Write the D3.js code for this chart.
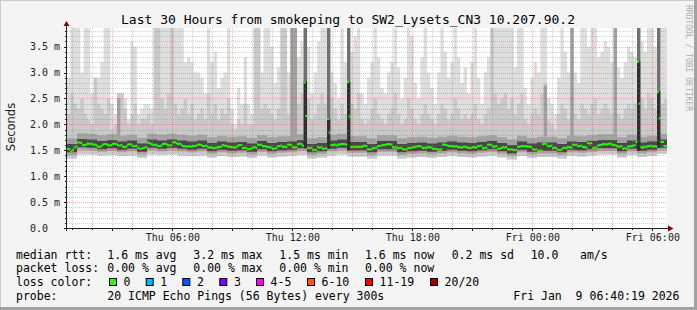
<!DOCTYPE html>
<html>
<head>
<meta charset="utf-8">
<script src="https://cdn.jsdelivr.net/npm/d3@7"></script>
<style>
  html, body { margin: 0; padding: 0; background: #f3f3f3; }
  svg { display: block; }
  text { font-family: "DejaVu Sans Mono", monospace; white-space: pre; }
</style>
</head>
<body>
<svg id="chart" width="697" height="310"></svg>
<script>
// time window of the graph (30 hours)
const startTime = new Date(2026, 0, 8, 0, 44)
const endTime = new Date(2026, 0, 9, 6, 44)
const yMax = 3.86

// median rtt in ms, one value per 5 minute step
const median = [
  1.53,1.52,1.48, 1.50,1.55,1.58, 1.65,1.65,1.64, 1.60,1.60,1.61, 1.63,1.62,1.63, 1.61,1.61,1.60, 1.57,1.56,1.58, 1.61,1.62,1.62, 1.60,1.59,1.60, 1.62,1.63,1.62,
  1.60,1.59,1.60, 1.57,1.56,1.57, 1.61,1.62,1.61, 1.58,1.58,1.59, 1.55,1.53,1.53, 1.54,1.55,1.56, 1.65,1.64,1.62, 1.61,1.60,1.61, 1.58,1.58,1.59, 1.62,1.63,1.62,
  1.60,1.59,1.60, 1.65,1.66,1.64, 1.62,1.63,1.61, 1.58,1.58,1.57, 1.57,1.58,1.57, 1.58,1.58,1.59, 1.61,1.61,1.60, 1.58,1.58,1.59, 1.56,1.55,1.56, 1.54,1.54,1.55,
  1.56,1.56,1.57, 1.60,1.59,1.59, 1.57,1.57,1.56, 1.56,1.55,1.56, 1.59,1.60,1.60, 1.54,1.55,1.54, 1.52,1.52,1.53, 1.55,1.56,1.55, 1.61,1.60,1.61, 1.58,1.58,1.57,
  1.56,1.56,1.55, 1.53,1.53,1.54, 1.58,1.58,1.59, 1.56,1.57,1.56, 1.61,1.61,1.60, 1.56,1.55,1.56, 1.62,1.63,1.62, 1.59,2.81,2.16, 1.55,1.54,1.55, 1.50,1.51,1.50,
  1.56,1.55,1.56, 1.53,1.53,1.54, 2.10,1.84,1.60, 1.60,1.61,1.59, 1.61,1.61,1.62, 1.62,1.62,1.61, 2.82,2.15,1.56, 1.57,1.56,1.57, 1.56,1.57,1.56, 1.58,1.59,1.58,
  1.52,1.51,1.52, 1.54,1.54,1.55, 1.58,1.58,1.59, 1.60,1.60,1.61, 1.62,1.62,1.61, 1.56,1.55,1.56, 1.54,1.54,1.55, 1.52,1.52,1.51, 1.54,1.55,1.54, 1.56,1.56,1.57,
  1.58,1.58,1.57, 1.54,1.55,1.54, 1.56,1.56,1.55, 1.53,1.53,1.52, 1.52,1.51,1.52, 1.61,1.61,1.60, 1.59,1.58,1.58, 1.58,1.57,1.58, 1.56,1.56,1.55, 1.56,1.57,1.56,
  1.55,1.54,1.55, 1.56,1.56,1.55, 1.58,1.58,1.59, 1.54,1.54,1.55, 1.61,1.61,1.60, 1.57,1.57,1.58, 1.53,1.53,1.54, 1.56,1.55,1.56, 1.52,1.51,1.52, 1.51,1.50,1.51,
  1.57,1.57,1.58, 1.58,1.58,1.58, 1.57,1.57,1.56, 1.52,1.51,1.52, 1.49,1.49,1.50, 1.62,1.63,1.62, 1.58,1.58,1.59, 1.54,1.55,1.54, 1.51,1.50,1.51, 1.54,1.55,1.54,
  1.56,1.56,1.55, 1.61,1.60,1.61, 1.58,1.58,1.59, 1.56,1.56,1.55, 1.64,1.63,1.64, 1.54,1.55,1.55, 1.59,1.60,1.60, 1.62,1.62,1.61, 1.62,1.63,1.62, 1.60,1.60,1.59,
  1.57,1.57,1.58, 1.53,1.54,1.53, 1.57,1.57,1.58, 1.58,1.60,1.66, 3.21,2.40,1.56, 1.55,1.57,1.56, 1.58,1.58,1.59, 1.57,1.58,1.57, 2.63,2.12,1.66, 1.66,1.58,1.58
]

// smoke: highest ping per 10 minute column (ms)
const pingMax = [
  2.9,3.9,3.9,3.9,3.0,3.9,3.9,2.6,2.9,2.9, 3.2,3.9,3.9,2.4,2.2,2.6,2.6,2.5,2.1,3.6,
  3.5,2.2,2.3,2.4,2.4,2.3,3.9,3.9,3.9,3.9, 3.9,3.9,3.9,3.9,3.9,3.2,3.3,3.2,3.0,3.0,
  2.9,2.6,3.9,3.2,3.4,2.7,2.9,3.0,3.9,2.3, 2.0,2.7,2.4,3.3,2.4,2.2,3.9,3.9,3.0,3.9,
  3.9,3.5,2.8,3.1,3.9,3.9,3.0,3.9,3.9,3.3, 3.6,3.9,3.5,2.6,3.0,3.6,3.9,3.9,3.9,3.0,
  2.8,2.5,3.9,3.2,3.9,3.4,3.7,3.9,2.6,2.4, 2.9,3.2,3.9,3.3,2.7,2.6,3.0,3.2,3.9,3.1,
  2.5,2.9,3.9,3.7,2.8,2.5,3.3,3.9,3.0,2.7, 2.4,3.0,3.9,3.4,2.9,3.2,3.9,3.3,2.8,3.1,
  2.6,3.2,3.9,2.9,2.4,3.0,3.3,3.9,3.9,3.9, 3.9,3.9,3.9,3.9,3.1,3.9,3.9,2.7,2.4,2.9,
  3.2,3.0,3.9,3.9,2.5,2.4,2.2,2.9,3.9,3.4, 3.0,3.9,3.0,2.8,3.9,3.9,3.5,3.9,3.9,3.3,
  3.4,3.6,3.5,3.2,3.9,3.1,2.9,3.2,3.5,3.4, 3.3,3.9,3.6,3.4,3.9,3.9,3.5,3.9,3.9,3.9
]
// smoke: second ping layer per 10 minute column (ms)
const pingHigh = [
  2.2,2.6,2.4,2.3,2.5,2.2,2.1,2.0,2.9,2.4, 2.3,2.2,2.5,1.9,2.0,2.6,2.6,2.3,2.0,2.2,
  2.4,2.0,2.1,2.1,2.2,2.0,3.9,3.9,2.5,2.3, 2.6,3.9,2.4,2.2,2.3,2.5,2.2,2.4,2.1,2.2,
  2.3,2.1,2.6,2.2,2.4,2.1,2.3,2.2,2.5,2.0, 1.9,2.1,2.0,2.4,2.0,2.0,3.9,3.9,2.3,2.4,
  2.3,2.2,2.1,2.3,3.9,3.9,2.2,3.9,3.9,2.4, 2.6,3.9,2.5,2.1,2.2,2.4,2.6,2.4,3.9,2.5,
  2.3,2.1,2.4,2.2,3.9,2.4,2.3,2.6,2.1,2.0, 2.1,2.3,2.5,2.2,2.1,2.0,2.2,2.3,2.6,2.2,
  2.0,2.1,2.5,2.3,2.1,2.0,2.2,2.4,2.2,2.1, 2.0,2.2,2.4,2.3,2.1,2.2,2.5,2.3,2.1,2.2,
  2.1,2.2,2.4,2.1,2.0,2.2,2.3,3.9,2.6,2.4, 2.5,2.6,2.3,2.5,2.2,2.4,2.6,2.1,2.0,2.2,
  2.3,2.2,2.6,2.8,2.1,2.0,1.9,2.2,2.4,2.3, 2.1,3.9,2.2,2.1,2.4,2.3,2.2,2.4,2.5,2.2,
  2.3,2.4,2.3,2.2,3.9,2.2,2.1,2.3,2.4,2.3, 2.4,3.9,2.5,2.3,2.6,2.5,2.3,3.9,2.4,2.5
]

// baseline band, one value per 30 minutes (ms)
const bandMin = [
  1.34,1.42,1.42,1.40,1.41,1.39,1.40,1.35,1.42,1.41, 1.42,1.40,1.39,1.40,1.36,1.39,1.37,1.38,1.35,1.40,
  1.36,1.38,1.39,1.41,1.34,1.36,1.40,1.42,1.38,1.38, 1.34,1.40,1.40,1.34,1.36,1.37,1.35,1.37,1.39,1.37,
  1.36,1.38,1.40,1.36,1.32,1.39,1.35,1.37,1.37,1.34, 1.39,1.38,1.40,1.42,1.42,1.36,1.41,1.37,1.39,1.43
]
const bandLow = [
  1.41,1.51,1.50,1.47,1.49,1.46,1.48,1.42,1.50,1.48, 1.50,1.48,1.46,1.48,1.43,1.46,1.44,1.45,1.42,1.47,
  1.43,1.45,1.46,1.49,1.41,1.43,1.48,1.50,1.45,1.45, 1.41,1.47,1.47,1.41,1.43,1.44,1.42,1.44,1.46,1.44,
  1.43,1.45,1.47,1.43,1.39,1.46,1.42,1.44,1.44,1.41, 1.46,1.45,1.47,1.49,1.49,1.43,1.48,1.44,1.46,1.50
]
const coreLo = [
  1.46,1.56,1.55,1.52,1.54,1.51,1.53,1.47,1.55,1.53, 1.55,1.53,1.51,1.53,1.48,1.51,1.49,1.50,1.47,1.52,
  1.48,1.50,1.51,1.54,1.46,1.48,1.53,1.55,1.50,1.50, 1.46,1.52,1.52,1.46,1.48,1.49,1.47,1.49,1.51,1.49,
  1.48,1.50,1.52,1.48,1.44,1.51,1.47,1.49,1.49,1.46, 1.51,1.50,1.52,1.54,1.54,1.48,1.53,1.49,1.51,1.55
]
const coreHi = [
  1.62,1.72,1.71,1.68,1.70,1.67,1.69,1.63,1.71,1.69, 1.71,1.69,1.67,1.69,1.64,1.67,1.65,1.66,1.63,1.68,
  1.64,1.66,1.67,1.70,1.62,1.64,1.69,1.71,1.66,1.66, 1.62,1.68,1.68,1.62,1.64,1.65,1.63,1.65,1.67,1.65,
  1.64,1.66,1.68,1.64,1.60,1.67,1.63,1.65,1.65,1.62, 1.67,1.66,1.68,1.70,1.70,1.64,1.69,1.65,1.67,1.71
]
const bandTop = [
  1.73,1.83,1.82,1.79,1.81,1.78,1.80,1.74,1.82,1.80, 1.82,1.80,1.78,1.80,1.75,1.78,1.76,1.77,1.74,1.79,
  1.75,1.77,1.78,1.81,1.73,1.75,1.80,1.82,1.77,1.77, 1.73,1.79,1.79,1.73,1.75,1.76,1.74,1.76,1.78,1.76,
  1.75,1.77,1.79,1.75,1.71,1.78,1.74,1.76,1.76,1.73, 1.78,1.77,1.79,1.81,1.81,1.75,1.80,1.76,1.78,1.82
]

// 10 minute columns where most pings rose together
const spikeCols = [71, 78, 84, 171, 177]
const spikeTops = [2.83, 2.10, 2.82, 3.22, 2.64]
// 10 minute columns with a tall mid gray layer
const grayCols = [15, 67, 68, 143, 151, 164]
const grayTops = [2.5, 3.9, 3.9, 2.75, 3.9, 3.9]

const yTicks = [0.5, 1.0, 1.5, 2.0, 2.5, 3.0, 3.5]

const rttStats = ["1.6 ms avg", "3.2 ms max", "1.5 ms min", "1.6 ms now", "0.2 ms sd", "10.0", "am/s"]
const lossStats = ["0.00 % avg", "0.00 % max", "0.00 % min", "0.00 % now"]
const lossLabels = ["0", "1", "2", "3", "4-5", "6-10", "11-19", "20/20"]
const lossColors = ["#26ff00", "#00b8ff", "#0059ff", "#7e00ff", "#ff00ff", "#ff5500", "#ff0000", "#a10000"]
const probeText = "20 ICMP Echo Pings (56 Bytes) every 300s"
const stampText = "Fri Jan  9 06:40:19 2026"

const W = 697, H = 310
const pLeft = 67, pRight = 667, pTop = 28, pBottom = 228

const x = d3.scaleTime().domain([startTime, endTime]).range([pLeft, pRight])
const y = d3.scaleLinear().domain([0, yMax]).range([pBottom, pTop]).clamp(true)
const at = (i, minutes) => new Date(+startTime + i * minutes * 60000)

const svg = d3.select("#chart")

// background and 3d frame
svg.append("rect").attr("width", W).attr("height", H).attr("fill", "#f3f3f3")
svg.append("rect").attr("width", W).attr("height", 1).attr("fill", "#cbcbcb")
svg.append("rect").attr("width", 1).attr("height", H).attr("fill", "#cbcbcb")
svg.append("rect").attr("y", H - 3).attr("width", W).attr("height", 3).attr("fill", "#a2a2a2")
svg.append("rect").attr("x", W - 3).attr("width", 3).attr("height", H).attr("fill", "#a2a2a2")

svg.append("defs").append("clipPath").attr("id", "plotclip")
  .append("rect").attr("x", pLeft).attr("y", pTop).attr("width", pRight - pLeft).attr("height", pBottom - pTop)

svg.append("rect").attr("x", pLeft).attr("y", pTop).attr("width", pRight - pLeft).attr("height", pBottom - pTop)
  .attr("fill", "white")

const plot = svg.append("g").attr("clip-path", "url(#plotclip)")

function stepArea (n, minutes, lower, upper) {
  return d3.area()
    .curve(d3.curveStepAfter)
    .x(i => x(at(i, minutes)))
    .y0(i => y(lower(Math.min(i, n - 1))))
    .y1(i => y(upper(Math.min(i, n - 1))))(d3.range(n + 1))
}
const half = i => Math.floor(i / 3)

// smoke layers, outer (light) to inner (dark)
plot.append("path").attr("d", stepArea(180, 10, i => bandMin[half(i)], i => pingMax[i])).attr("fill", "#dedede")
plot.append("path").attr("d", stepArea(180, 10, i => bandMin[half(i)], i => pingHigh[i])).attr("fill", "#c9c9c9")
plot.append("path").attr("d", stepArea(60, 30, k => bandLow[k], k => bandTop[k])).attr("fill", "#a3a3a3")

plot.selectAll("rect.gray")
  .data(grayCols)
  .enter()
  .append("rect")
  .attr("class", "gray")
  .attr("x", c => x(at(c, 10)))
  .attr("width", c => x(at(c + 1, 10)) - x(at(c, 10)))
  .attr("y", (c, n) => y(grayTops[n]))
  .attr("height", (c, n) => y(bandTop[half(c)]) - y(grayTops[n]))
  .attr("fill", "#a0a0a0")

plot.append("path").attr("d", stepArea(60, 30, k => coreLo[k], k => coreHi[k])).attr("fill", "#474747")

// spikes: upper pings in mid dark gray, core pings in near black
plot.selectAll("rect.spikeUp")
  .data(spikeCols)
  .enter()
  .append("rect")
  .attr("class", "spikeUp")
  .attr("x", c => x(at(c, 10)))
  .attr("width", c => x(at(c + 1, 10)) - x(at(c, 10)))
  .attr("y", y(yMax))
  .attr("height", c => y(coreHi[half(c)]) - y(yMax))
  .attr("fill", "#707070")
plot.selectAll("rect.spikeCore")
  .data(spikeCols)
  .enter()
  .append("rect")
  .attr("class", "spikeCore")
  .attr("x", c => x(at(c, 10)))
  .attr("width", c => x(at(c + 1, 10)) - x(at(c, 10)))
  .attr("y", (c, n) => y(spikeTops[n]))
  .attr("height", (c, n) => y(coreLo[half(c)]) - y(spikeTops[n]))
  .attr("fill", "#2e2e2e")

// median: one short bar per step, colored by loss (all 0 here)
plot.selectAll("rect.median")
  .data(median)
  .enter()
  .append("rect")
  .attr("class", "median")
  .attr("x", (d, j) => x(at(j, 5)))
  .attr("width", (d, j) => x(at(j + 1, 5)) - x(at(j, 5)) + 0.3)
  .attr("y", d => y(d) - 1)
  .attr("height", 2)
  .attr("fill", lossColors[0])

// grid drawn on top of the graph
const grid = svg.append("g").attr("fill", "none").attr("stroke-width", 1).attr("stroke-dasharray", "1,1")
const minorY = d3.range(1, 39).map(v => v / 10).filter(v => Math.round(v * 10) % 5 !== 0)
grid.selectAll("line.minorY")
  .data(minorY)
  .enter()
  .append("line")
  .attr("x1", pLeft).attr("x2", pRight)
  .attr("y1", v => Math.round(y(v)) + 0.5).attr("y2", v => Math.round(y(v)) + 0.5)
  .attr("stroke", "rgba(130,130,130,0.38)")

const hours = d3.timeHour.range(d3.timeHour.ceil(startTime), endTime)
grid.selectAll("line.minorX")
  .data(hours.filter(h => h.getHours() % 3 !== 0))
  .enter()
  .append("line")
  .attr("x1", h => Math.round(x(h)) + 0.5).attr("x2", h => Math.round(x(h)) + 0.5)
  .attr("y1", pTop).attr("y2", pBottom)
  .attr("stroke", "rgba(130,130,130,0.38)")

grid.selectAll("line.majorY")
  .data(yTicks)
  .enter()
  .append("line")
  .attr("x1", pLeft).attr("x2", pRight)
  .attr("y1", v => Math.round(y(v)) + 0.5).attr("y2", v => Math.round(y(v)) + 0.5)
  .attr("stroke", "rgba(255,0,0,0.3)")

grid.selectAll("line.majorX")
  .data(hours.filter(h => h.getHours() % 3 === 0))
  .enter()
  .append("line")
  .attr("x1", h => Math.round(x(h)) + 0.5).attr("x2", h => Math.round(x(h)) + 0.5)
  .attr("y1", pTop).attr("y2", pBottom)
  .attr("stroke", "rgba(255,0,0,0.3)")

// axes and tick marks
const axis = svg.append("g").attr("stroke", "#202020").attr("stroke-width", 1)
axis.append("line").attr("x1", 64).attr("x2", pRight + 2).attr("y1", pBottom + 0.5).attr("y2", pBottom + 0.5)
axis.append("line").attr("x1", pLeft - 0.5).attr("x2", pLeft - 0.5).attr("y1", pBottom + 3).attr("y2", 25)
axis.selectAll("line.tx")
  .data(hours)
  .enter()
  .append("line")
  .attr("x1", h => Math.round(x(h)) + 0.5).attr("x2", h => Math.round(x(h)) + 0.5)
  .attr("y1", pBottom).attr("y2", h => pBottom + (h.getHours() % 3 === 0 ? 3 : 2))
axis.selectAll("line.ty")
  .data(minorY.concat(yTicks))
  .enter()
  .append("line")
  .attr("x1", v => pLeft - (yTicks.includes(v) ? 3 : 2)).attr("x2", pLeft)
  .attr("y1", v => Math.round(y(v)) + 0.5).attr("y2", v => Math.round(y(v)) + 0.5)

svg.append("path").attr("d", "M63.5,26L69.5,26L66.5,21Z").attr("fill", "#800000")
svg.append("path").attr("d", "M668,225.5L668,231.5L673.5,228.5Z").attr("fill", "#800000")

// y labels
svg.selectAll("text.ylab")
  .data([0].concat(yTicks))
  .enter()
  .append("text")
  .attr("x", 60)
  .attr("y", v => y(v) + 3.6)
  .attr("text-anchor", "end")
  .attr("font-size", "10px")
  .attr("fill", "#222")
  .text(v => v === 0 ? "0.0  " : v.toFixed(1) + " m")

// x labels every 6 hours
const fmt = d3.timeFormat("%a %H:%M")
svg.selectAll("text.xlab")
  .data(hours.filter(h => h.getHours() % 6 === 0))
  .enter()
  .append("text")
  .attr("x", h => x(h) + 0.5)
  .attr("y", 241)
  .attr("text-anchor", "middle")
  .attr("font-size", "10px")
  .attr("fill", "#222")
  .text(h => fmt(h))

// title and side texts
svg.append("text")
  .attr("x", 348)
  .attr("y", 24)
  .attr("text-anchor", "middle")
  .attr("font-size", "13px")
  .attr("fill", "#000")
  .text("Last 30 Hours from smokeping to SW2_Lysets_CN3 10.207.90.2")

svg.append("text")
  .attr("transform", "translate(15,127) rotate(-90)")
  .attr("text-anchor", "middle")
  .style("font-family", "'DejaVu Sans', sans-serif")
  .attr("font-size", "11.5px")
  .attr("fill", "#222")
  .text("Seconds")

svg.append("text")
  .attr("transform", "translate(686,5) rotate(90)")
  .attr("font-size", "8px")
  .attr("fill", "#ababab")
  .text("RRDTOOL / TOBI OETIKER")

// legend
const legend = svg.append("g").attr("font-size", "11.5px").attr("fill", "#000")
const rowY = [258.5, 272, 286, 299.5]
const statX = [107.3, 193.3, 279.3, 365, 451.7, 530.7, 580]

legend.append("text").attr("x", 16).attr("y", rowY[0]).text("median rtt:")
legend.selectAll("text.rtt")
  .data(rttStats)
  .enter()
  .append("text")
  .attr("x", (d, i) => statX[i])
  .attr("y", rowY[0])
  .text(d => d)

legend.append("text").attr("x", 16).attr("y", rowY[1]).text("packet loss:")
legend.selectAll("text.loss")
  .data(lossStats)
  .enter()
  .append("text")
  .attr("x", (d, i) => statX[i])
  .attr("y", rowY[1])
  .text(d => d)

legend.append("text").attr("x", 16).attr("y", rowY[2]).text("loss color:")
const boxX = [109, 145.7, 182.3, 219.3, 256, 307, 365, 430]
legend.selectAll("rect.lossbox")
  .data(lossColors)
  .enter()
  .append("rect")
  .attr("x", (d, i) => boxX[i] + 0.5)
  .attr("y", 278.5)
  .attr("width", 7)
  .attr("height", 7)
  .attr("fill", d => d)
  .attr("stroke", "#000")
  .attr("stroke-width", 1)
legend.selectAll("text.losslab")
  .data(lossLabels)
  .enter()
  .append("text")
  .attr("x", (d, i) => boxX[i] + 14.6)
  .attr("y", rowY[2])
  .text(d => d)

legend.append("text").attr("x", 16).attr("y", rowY[3]).text("probe:")
legend.append("text").attr("x", 107.3).attr("y", rowY[3]).text(probeText)
legend.append("text").attr("x", 513.3).attr("y", rowY[3]).text(stampText)
</script>
</body>
</html>
